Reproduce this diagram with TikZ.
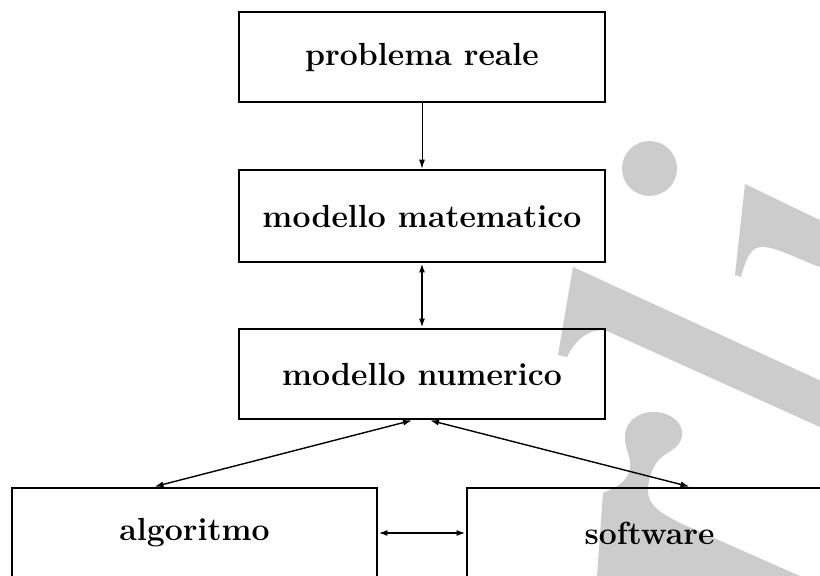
\documentclass[tikz,border=0pt]{standalone}
\usetikzlibrary{arrows.meta}
\definecolor{wmgray}{HTML}{CCCCCC}
\begin{document}
\begin{tikzpicture}[x=1pt,y=-1pt,
  box/.style={draw,line width=2.7pt,minimum width=366pt,minimum height=90pt,
    inner sep=0pt,font=\fontsize{32}{38}\selectfont\bfseries},
  tip/.style={-{Latex[length=9pt,width=6pt]}},
  dtip/.style={{Latex[length=9pt,width=6pt]}-{Latex[length=9pt,width=6pt]}},
  wm/.style={fill=wmgray,draw=none}]
\useasboundingbox (0,0) rectangle (820,576);

% light grey background lettering
\fill[wm] (649.5,168.5) circle (27.5);
\fill[wm] (745,184) -- (830,225) -- (830,270) -- (820,267)
  .. controls (795,258) and (775,246) .. (760,247)
  .. controls (750,248) and (745,262) .. (741,277) -- (735,275) -- cycle;
\fill[wm] (573,267) -- (830,385) -- (830,431) -- (820,427) -- (607,331)
  .. controls (590,327) and (575,340) .. (567,357) -- (558,355) -- cycle;
\fill[wm] (603,493) .. controls (615,488) and (628,482) .. (630,468)
  .. controls (632,458) and (624,448) .. (625,435)
  .. controls (627,418) and (642,411) .. (656,412)
  .. controls (672,413) and (684,424) .. (682,436)
  .. controls (680,450) and (664,452) .. (657,462)
  .. controls (650,472) and (645,490) .. (650,500)
  .. controls (655,510) and (665,515) .. (680,523)
  -- (793,573) .. controls (800,576) and (805,578) .. (810,580)
  -- (590,580) -- (597,576) -- cycle;

% boxes
\node[box] (reale) at (422,57) {problema reale};
\node[box,minimum height=92pt] (matem) at (422,216) {modello matematico};
\node[box] (numer) at (422,374) {modello numerico};
\node[box,minimum width=365pt] (algo) at (194.5,533) {algoritmo};
\node[box,minimum width=365pt] (soft) at (649.5,533) {software};

% connectors
\draw[tip,line width=1pt] (reale.south) -- (matem.north);
\draw[dtip,line width=2pt] (matem.south) -- (numer.north);
\draw[dtip,line width=1.4pt] ([xshift=-10pt]numer.south) -- ([xshift=-40pt]algo.north);
\draw[dtip,line width=1.4pt] ([xshift=8pt]numer.south) -- ([xshift=40pt]soft.north);
\draw[dtip,line width=2.2pt] (algo.east) -- (soft.west);
\end{tikzpicture}
\end{document}
